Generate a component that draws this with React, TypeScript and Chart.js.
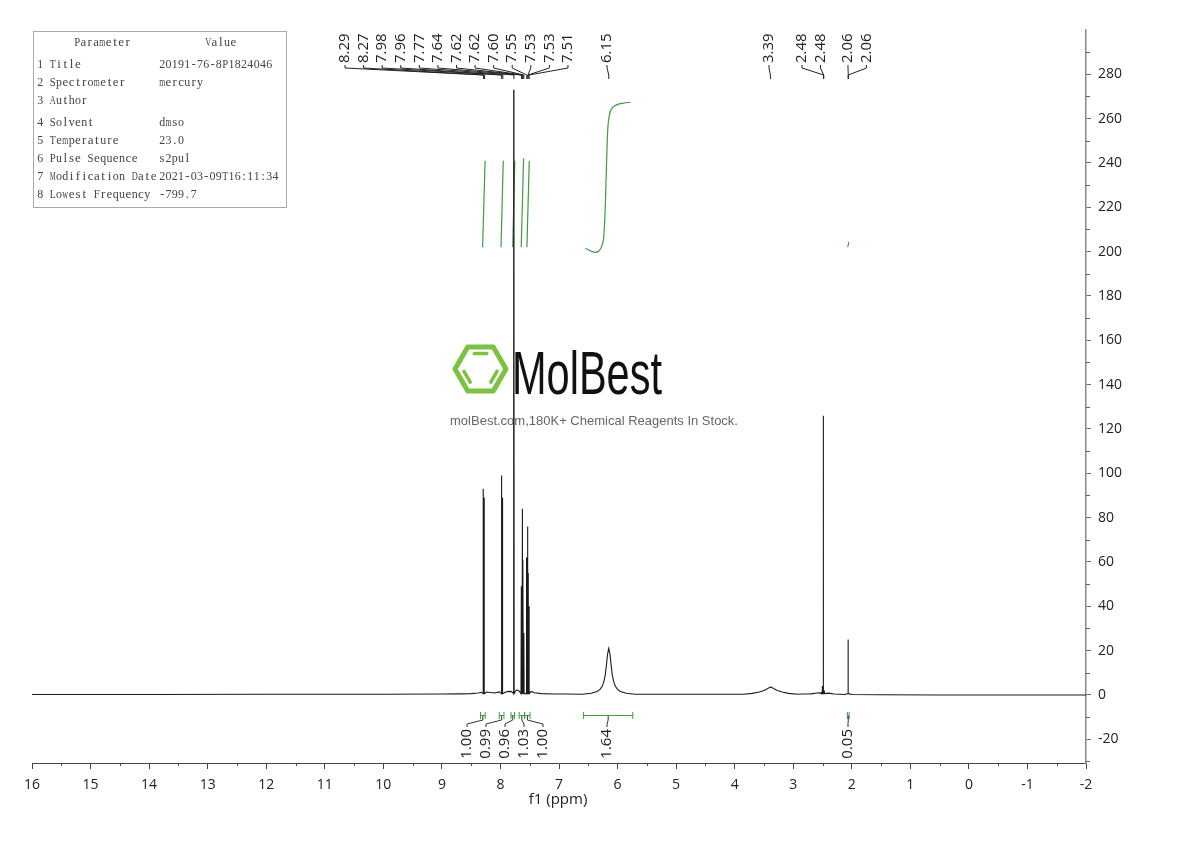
import React, { useEffect, useRef } from 'react';
import { Chart, registerables } from 'chart.js';

Chart.register(...registerables);

// ---------------- data ----------------
const X_TICKS = [16, 15, 14, 13, 12, 11, 10, 9, 8, 7, 6, 5, 4, 3, 2, 1, 0, -1, -2];
const Y_TICKS = [-20, 0, 20, 40, 60, 80, 100, 120, 140, 160, 180, 200, 220, 240, 260, 280];

// baseline samples (ppm, intensity)
const BASE_PPM = [16, 14, 12, 10, 9, 8.7, 8.5, 8.38, 8.33, 8.24, 8.1, 8.02, 7.92, 7.86, 7.81, 7.73, 7.69, 7.48, 7.42, 7.3, 7.1, 6.9, 5.6, 5.2, 4.6, 4.1, 2.85, 2.7, 2.56, 2.4, 2.3, 2.12, 2.0, 1.5, 0.5, -1, -2];
const BASE_INT = [0.2, 0.2, 0.3, 0.3, 0.4, 0.5, 0.6, 0.9, 1.2, 1.3, 0.9, 1.4, 1.2, 1.6, 1.5, 2.2, 2.0, 1.6, 1.0, 0.6, 0.4, 0.4, 0.3, 0.3, 0.3, 0.3, 0.4, 0.5, 1.0, 0.8, 0.4, 0.2, 0.2, 0.1, 0.0, 0.0, 0.0];

// sharp lines
const SHARP_PPM = [8.292, 8.275, 7.978, 7.962, 7.770, 7.645, 7.628, 7.618, 7.600, 7.552, 7.535, 7.527, 7.510, 2.520, 2.500, 2.483, 2.465, 2.060];
const SHARP_HEIGHT = [93, 89, 99, 89, 273, 49, 84, 61, 28, 62, 76, 55, 40, 1.5, 4, 126, 2, 25];

// broad NH peak near 6.15
const NH_PPM = [6.6, 6.45, 6.35, 6.3, 6.26, 6.23, 6.21, 6.19, 6.17, 6.15, 6.13, 6.11, 6.09, 6.07, 6.04, 6.0, 5.95, 5.85, 5.7];
const NH_INT = [0.3, 0.8, 1.6, 2.5, 4, 6.5, 9, 13.5, 18.5, 21, 18.5, 13.5, 9, 6.5, 4, 2.5, 1.6, 0.8, 0.3];

// water peak near 3.39
const WATER_PPM = [3.85, 3.7, 3.58, 3.5, 3.45, 3.41, 3.385, 3.36, 3.32, 3.27, 3.19, 3.08, 2.92];
const WATER_INT = [0.3, 0.7, 1.3, 2.0, 2.7, 3.3, 3.6, 3.3, 2.7, 2.0, 1.3, 0.7, 0.3];

// integral curves (green)
const INTEGRAL_CURVE_PPM = [
  [8.305, 8.262],
  [7.99, 7.952],
  [7.79, 7.755],
  [7.645, 7.605],
  [7.548, 7.508],
  [6.55, 6.45, 6.38, 6.32, 6.27, 6.235, 6.21, 6.19, 6.17, 6.14, 6.1, 6.034, 5.9, 5.778],
  [2.07, 2.05],
];
const INTEGRAL_CURVE_Y = [
  [202, 241],
  [202, 241],
  [202, 241],
  [202, 242],
  [202, 241],
  [201.5, 200.2, 199.7, 200.3, 202.5, 207, 220, 238, 254, 261.5, 264.5, 266, 267, 267.4],
  [202, 204.3],
];

// peak labels
const PEAK_LABELS = ['8.29', '8.27', '7.98', '7.96', '7.77', '7.64', '7.62', '7.62', '7.60', '7.55', '7.53', '7.53', '7.51', '6.15', '3.39', '2.48', '2.48', '2.06', '2.06'];
const PEAK_LABEL_PPM = [8.29, 8.27, 7.98, 7.96, 7.77, 7.64, 7.62, 7.62, 7.6, 7.55, 7.53, 7.53, 7.51, 6.15, 3.39, 2.48, 2.48, 2.06, 2.06];

// integrals
const INTEGRAL_LABELS = ['1.00', '0.99', '0.96', '1.03', '1.00', '1.64', '0.05'];
const INTEGRAL_FROM = [8.34, 8.02, 7.82, 7.68, 7.585, 6.58, 2.075];
const INTEGRAL_TO = [8.26, 7.94, 7.76, 7.59, 7.495, 5.74, 2.045];

// parameter table
const PARAM_NAMES = ['1 Title', '2 Spectrometer', '3 Author', '4 Solvent', '5 Temperature', '6 Pulse Sequence', '7 Modification Date', '8 Lowest Frequency'];
const PARAM_VALUES = ['20191-76-8P1824046', 'mercury', '', 'dmso', '23.0', 's2pul', '2021-03-09T16:11:34', '-799.7'];

// ---------------- build ----------------
function buildSpectrum() {
  const pts: { x: number; y: number }[] = [];
  BASE_PPM.forEach((p, i) => pts.push({ x: p, y: BASE_INT[i] }));
  NH_PPM.forEach((p, i) => pts.push({ x: p, y: NH_INT[i] }));
  WATER_PPM.forEach((p, i) => pts.push({ x: p, y: WATER_INT[i] }));
  const d = 0.004;
  const foot = 0.6;
  SHARP_PPM.forEach((p, i) => {
    pts.push({ x: p + d, y: foot });
    pts.push({ x: p, y: SHARP_HEIGHT[i] });
    pts.push({ x: p - d, y: foot });
  });
  pts.sort((a, b) => a.x - b.x);
  return pts;
}

const GREEN = '#3f9c3f';
const FONT = '"Open Sans", "DejaVu Sans", sans-serif';

function drawMono(ctx: CanvasRenderingContext2D, text: string, x: number, y: number, adv: number) {
  ctx.textAlign = 'center';
  ctx.textBaseline = 'middle';
  for (let i = 0; i < text.length; i++) {
    const ch = text[i];
    if (ch === ' ') continue;
    const w = ctx.measureText(ch).width;
    const cx = x + i * adv + adv / 2;
    if (w > adv * 0.95) {
      ctx.save();
      ctx.translate(cx, y);
      ctx.scale((adv * 0.95) / w, 1);
      ctx.fillText(ch, 0, 0);
      ctx.restore();
    } else {
      ctx.fillText(ch, cx, y);
    }
  }
}

function drawWatermark(ctx: CanvasRenderingContext2D) {
  ctx.save();
  const cx = 480.5, cy = 369, R = 25.5;
  const verts: [number, number][] = [];
  for (let k = 0; k < 6; k++) {
    const a = (k * Math.PI) / 3;
    verts.push([cx + R * Math.cos(a), cy + R * Math.sin(a)]);
  }
  ctx.strokeStyle = '#7cc242';
  ctx.lineWidth = 5;
  ctx.lineJoin = 'round';
  ctx.beginPath();
  verts.forEach((v, i) => (i === 0 ? ctx.moveTo(v[0], v[1]) : ctx.lineTo(v[0], v[1])));
  ctx.closePath();
  ctx.stroke();
  ctx.lineWidth = 3.5;
  ctx.lineCap = 'round';
  const inner = 0.7;
  [[4, 5], [2, 3], [0, 1]].forEach(([a, b]) => {
    const A = [cx + (verts[a][0] - cx) * inner, cy + (verts[a][1] - cy) * inner];
    const B = [cx + (verts[b][0] - cx) * inner, cy + (verts[b][1] - cy) * inner];
    const t0 = 0.15, t1 = 0.85;
    ctx.beginPath();
    ctx.moveTo(A[0] + (B[0] - A[0]) * t0, A[1] + (B[1] - A[1]) * t0);
    ctx.lineTo(A[0] + (B[0] - A[0]) * t1, A[1] + (B[1] - A[1]) * t1);
    ctx.stroke();
  });
  // MolBest
  ctx.fillStyle = '#111';
  ctx.font = '61px "Liberation Sans", Arial, sans-serif';
  ctx.textAlign = 'left';
  ctx.textBaseline = 'alphabetic';
  const w = ctx.measureText('MolBest').width;
  ctx.translate(512, 394);
  ctx.scale(150 / w, 1);
  ctx.fillText('MolBest', 0, 0);
  ctx.restore();
  ctx.save();
  ctx.fillStyle = '#666';
  ctx.font = '13px "Liberation Sans", Arial, sans-serif';
  ctx.textAlign = 'center';
  ctx.textBaseline = 'middle';
  ctx.fillText('molBest.com,180K+ Chemical Reagents In Stock.', 594, 421);
  ctx.restore();
}

const annotPlugin = {
  id: 'nmrAnnot',
  beforeDatasetsDraw(chart: any) {
    drawWatermark(chart.ctx);
  },
  afterDraw(chart: any) {
    const ctx: CanvasRenderingContext2D = chart.ctx;
    const xs = chart.scales.x;
    const ys = chart.scales.y;
    const area = chart.chartArea;
    ctx.save();

    // minor ticks
    ctx.strokeStyle = '#444';
    ctx.lineWidth = 1;
    ctx.beginPath();
    for (let i = 0; i < X_TICKS.length - 1; i++) {
      const v = (X_TICKS[i] + X_TICKS[i + 1]) / 2;
      const px = Math.round(xs.getPixelForValue(v)) + 0.5;
      ctx.moveTo(px, area.bottom);
      ctx.lineTo(px, area.bottom + 3);
    }
    ctx.stroke();
    ctx.strokeStyle = '#666';
    ctx.beginPath();
    const yMinor = [Y_TICKS[0] - 10, ...Y_TICKS.map((v) => v + 10)];
    yMinor.forEach((v) => {
      const py = Math.round(ys.getPixelForValue(v)) + 0.5;
      if (py < area.top || py > area.bottom) return;
      ctx.moveTo(area.right, py);
      ctx.lineTo(area.right + 4, py);
    });
    ctx.stroke();

    // peak labels (top)
    const labelX: number[] = [];
    for (let i = 0; i < 13; i++) labelX.push(345 + i * 18.58);
    labelX.push(607, 769, 802, 820.5, 848, 866.5);
    ctx.font = `15px ${FONT}`;
    ctx.fillStyle = '#222';
    ctx.strokeStyle = '#222';
    ctx.lineWidth = 1;
    PEAK_LABELS.forEach((lab, i) => {
      const Lx = labelX[i];
      const Px = xs.getPixelForValue(PEAK_LABEL_PPM[i]);
      ctx.save();
      ctx.translate(Lx, 63);
      ctx.rotate(-Math.PI / 2);
      ctx.textAlign = 'left';
      ctx.textBaseline = 'middle';
      ctx.fillText(lab, 0, 0);
      ctx.restore();
      ctx.beginPath();
      ctx.moveTo(Lx, 65);
      ctx.lineTo(Lx, 68);
      ctx.lineTo(Px, 75);
      ctx.lineTo(Px, 79);
      ctx.stroke();
    });

    // integrals (bottom)
    const intX: number[] = [];
    for (let i = 0; i < 5; i++) intX.push(467 + i * 19);
    intX.push(607, 848);
    ctx.font = `15px ${FONT}`;
    INTEGRAL_LABELS.forEach((lab, i) => {
      const x1 = xs.getPixelForValue(INTEGRAL_FROM[i]);
      const x2 = xs.getPixelForValue(INTEGRAL_TO[i]);
      const Cx = (x1 + x2) / 2;
      const Lx = intX[i];
      ctx.strokeStyle = GREEN;
      ctx.lineWidth = 1;
      ctx.beginPath();
      ctx.moveTo(x1, 715.5);
      ctx.lineTo(x2, 715.5);
      ctx.moveTo(x1, 712);
      ctx.lineTo(x1, 719);
      ctx.moveTo(x2, 712);
      ctx.lineTo(x2, 719);
      ctx.stroke();
      ctx.strokeStyle = '#333';
      ctx.beginPath();
      ctx.moveTo(Cx, 716);
      ctx.lineTo(Cx, 720);
      ctx.lineTo(Lx, 724);
      ctx.lineTo(Lx, 727);
      ctx.stroke();
      ctx.save();
      ctx.translate(Lx, 729);
      ctx.rotate(-Math.PI / 2);
      ctx.textAlign = 'right';
      ctx.textBaseline = 'middle';
      ctx.fillStyle = '#222';
      ctx.fillText(lab, 0, 0);
      ctx.restore();
    });

    // axis title
    ctx.font = `15px ${FONT}`;
    ctx.fillStyle = '#222';
    ctx.textAlign = 'center';
    ctx.textBaseline = 'middle';
    ctx.fillText('f1 (ppm)', 558, 800);

    // parameter table
    ctx.strokeStyle = '#aaa';
    ctx.lineWidth = 1;
    ctx.strokeRect(33.5, 31.5, 253, 176);
    ctx.fillStyle = '#444';
    ctx.font = '13px "Liberation Serif", "DejaVu Serif", serif';
    const adv = 6.3;
    drawMono(ctx, 'Parameter', 74, 43, adv);
    drawMono(ctx, 'Value', 205, 43, adv);
    const rowY = [65, 83, 101, 123, 141, 159, 177, 195];
    PARAM_NAMES.forEach((n, i) => {
      drawMono(ctx, n, 37, rowY[i], adv);
      drawMono(ctx, PARAM_VALUES[i], 159, rowY[i], adv);
    });

    ctx.restore();
  },
};

export default function App() {
  const ref = useRef<HTMLCanvasElement>(null);
  useEffect(() => {
    const canvas = ref.current;
    if (!canvas) return;
    const spectrum = buildSpectrum();
    const integralSets = INTEGRAL_CURVE_PPM.map((ppms, k) => ({
      data: ppms.map((p, i) => ({ x: p, y: INTEGRAL_CURVE_Y[k][i] })).sort((a, b) => a.x - b.x),
      borderColor: GREEN,
      borderWidth: 1.2,
      pointRadius: 0,
      cubicInterpolationMode: 'monotone' as const,
      fill: false,
    }));
    const chart = new Chart(canvas, {
      type: 'line',
      data: {
        datasets: [
          {
            data: spectrum,
            borderColor: '#1a1a1a',
            borderWidth: 1.1,
            pointRadius: 0,
            tension: 0,
            fill: false,
          },
          ...integralSets,
        ],
      },
      options: {
        animation: false,
        responsive: false,
        events: [],
        layout: { padding: { top: 30, left: 32, right: 0, bottom: 0 } },
        plugins: { legend: { display: false }, tooltip: { enabled: false }, title: { display: false } },
        scales: {
          x: {
            type: 'linear',
            min: -2,
            max: 16,
            reverse: true,
            position: 'bottom',
            afterBuildTicks: (s: any) => {
              s.ticks = X_TICKS.map((v) => ({ value: v }));
            },
            afterFit: (s: any) => {
              s.height = 78;
            },
            grid: { display: true, drawOnChartArea: false, drawTicks: true, tickLength: 6, color: '#444' },
            border: { display: true, color: '#444', width: 1 },
            ticks: {
              font: { family: FONT, size: 14 },
              color: '#222',
              padding: 8,
              maxRotation: 0,
              autoSkip: false,
              callback: (v: any) => String(v),
            },
          },
          y: {
            type: 'linear',
            position: 'right',
            min: -30.7,
            max: 300,
            afterBuildTicks: (s: any) => {
              s.ticks = Y_TICKS.map((v) => ({ value: v }));
            },
            afterFit: (s: any) => {
              s.width = 104;
            },
            grid: { display: true, drawOnChartArea: false, drawTicks: true, tickLength: 5, color: '#666' },
            border: { display: true, color: '#888', width: 1.5 },
            ticks: {
              font: { family: FONT, size: 14 },
              color: '#222',
              padding: 7,
              autoSkip: false,
              callback: (v: any) => String(v),
            },
          },
        },
      },
      plugins: [annotPlugin],
    });
    return () => chart.destroy();
  }, []);
  return (
    <div style={{ position: 'absolute', left: 0, top: 0, width: 1190, height: 841, background: '#fff' }}>
      <canvas ref={ref} width={1190} height={841} style={{ display: 'block', width: 1190, height: 841 }} />
    </div>
  );
}
